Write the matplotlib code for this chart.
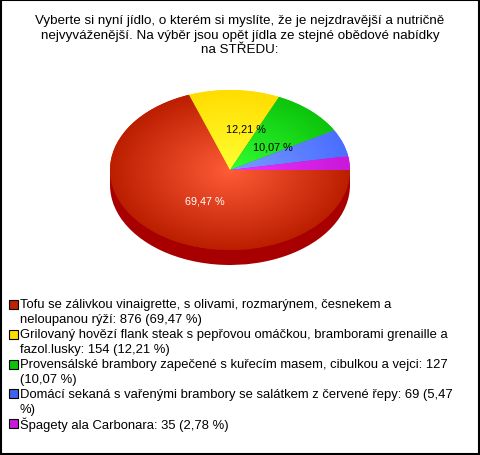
import matplotlib.pyplot as plt
import numpy as np
from matplotlib.patches import Rectangle

plt.rcParams['font.family'] = ['Liberation Sans', 'DejaVu Sans']

title_lines = [
    'Vyberte si nyní jídlo, o kterém si myslíte, že je nejzdravější a nutričně',
    'nejvyváženější. Na výběr jsou opět jídla ze stejné obědové nabídky',
    'na STŘEDU:',
]
counts = [876, 154, 127, 69, 35]
pct_labels = ['69,47 %', '12,21 %', '10,07 %', '', '']
legend_labels = [
    'Tofu se zálivkou vinaigrette, s olivami, rozmarýnem, česnekem a\nneloupanou rýží: 876 (69,47 %)',
    'Grilovaný hovězí flank steak s pepřovou omáčkou, bramborami grenaille a\nfazol.lusky: 154 (12,21 %)',
    'Provensálské brambory zapečené s kuřecím masem, cibulkou a vejci: 127\n(10,07 %)',
    'Domácí sekaná s vařenými brambory se salátkem z červené řepy: 69 (5,47\n%)',
    'Špagety ala Carbonara: 35 (2,78 %)',
]
inner_colors = ['#ff5c38', '#ffff33', '#33ff33', '#7a9cff', '#ee33ff']
outer_colors = ['#bb1e00', '#ffdd00', '#0cc40c', '#4a6eff', '#c818d8']
swatch_colors = ['#c22000', '#ffdd00', '#0cc40c', '#3c64f0', '#c818d8']
side_color = '#a80000'
label_colors = ['white', 'black', 'black', 'black', 'black']

W, H = 480, 456
fig = plt.figure(figsize=(W / 100, H / 100), dpi=100)

# background axes in pixel coordinates, y going down
bg = fig.add_axes([0, 0, 1, 1])
bg.set_xlim(0, W)
bg.set_ylim(H, 0)
bg.axis('off')
bg.add_patch(Rectangle((0.5, 0.5), W - 1.5, H - 1.5, fc='white', ec='black', lw=1.5))

for i, line in enumerate(title_lines):
    bg.text(240, 21 + i * 14.5, line, ha='center', va='center', fontsize=9.6, color='black')

# pie axes: 240x160 px ellipse centred on (230, 171)
cx, cy, rx, ry = 230, 171, 120, 80
ax = fig.add_axes([(cx - rx) / W, 1 - (cy + ry) / H, 2 * rx / W, 2 * ry / H])
depth = 15 / ry

ax.pie(counts, colors=[side_color] * 5, startangle=0, counterclock=False,
       radius=1, center=(0, -depth))
ax.add_patch(Rectangle((-1, -depth), 2, depth, fc=side_color, ec='none'))
wedges, _ = ax.pie(counts, colors=outer_colors, startangle=0, counterclock=False, radius=1)
ax.set_aspect('auto')
ax.set_xlim(-1, 1)
ax.set_ylim(-1, 1)
for a in ax.patches:
    a.set_clip_on(False)

# radial shading for each slice
gx, gy = np.meshgrid(np.linspace(-1, 1, 300), np.linspace(-1, 1, 300))
rr = np.clip(np.hypot(gx, gy), 0, 1)[..., None]
for wedge, c0, c1 in zip(wedges, inner_colors, outer_colors):
    img = (1 - rr) * np.array(plt.matplotlib.colors.to_rgb(c0)) + rr * np.array(plt.matplotlib.colors.to_rgb(c1))
    im = ax.imshow(img, extent=(-1, 1, -1, 1), origin='lower', aspect='auto', zorder=2)
    im.set_clip_path(wedge)
ax.set_xlim(-1, 1)
ax.set_ylim(-1, 1)

label_pos = [(205, 202), (246, 129), (273, 147)]
for (px, py), text, col in zip(label_pos, pct_labels, label_colors):
    bg_text = ax.text((px - cx) / rx, (cy - py) / ry, text, ha='center', va='center',
                      fontsize=7.8, color=col, zorder=3)

# legend
y = 305
for label, col in zip(legend_labels, swatch_colors):
    bg.add_patch(Rectangle((8.5, y - 4.5), 9, 9, fc=col, ec='black', lw=0.8))
    for line in label.split('\n'):
        bg.text(20, y, line, ha='left', va='center', fontsize=9.4, color='black')
        y += 15

fig.savefig('out.png', dpi=100)
